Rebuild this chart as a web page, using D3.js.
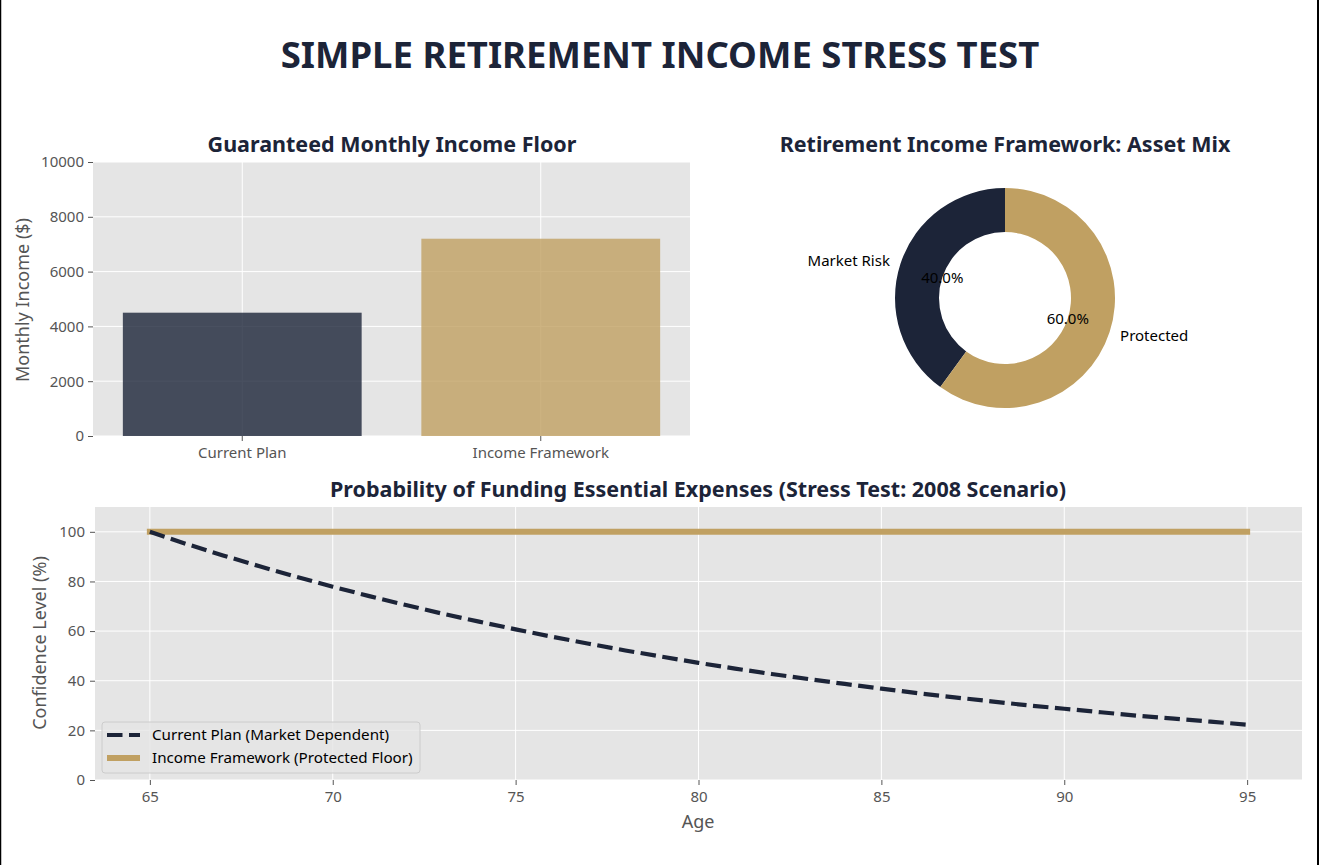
<!DOCTYPE html>
<html>
<head>
<meta charset="utf-8">
<script src="https://cdn.jsdelivr.net/npm/d3@7"></script>
<style>
  body { margin: 0; background: #fff; }
  svg, svg text, .tick text { font-family: "Noto Sans", "Open Sans", sans-serif; }
  .tick text { fill: #555; font-size: 15px; }
  .tick line { stroke: #555; }
  .domain { display: none; }
</style>
</head>
<body>
<div id="chart"></div>
<script>
var navy = "#1c2438",
    gold = "#c0a062";

// bar chart data
var barCats = ["Current Plan", "Income Framework"],
    barVals = [4500, 7200],
    barTicks = [0, 2000, 4000, 6000, 8000, 10000];

// donut data
var mixLabels = ["Market Risk", "Protected"],
    mixVals = [40, 60];

// line chart data
var ages = [65, 66, 67, 68, 69, 70, 71, 72, 73, 74, 75, 76, 77, 78, 79, 80,
            81, 82, 83, 84, 85, 86, 87, 88, 89, 90, 91, 92, 93, 94, 95],
    currentPlan = [100, 95.1, 90.5, 86.1, 81.9, 77.9, 74.1, 70.5, 67.0, 63.8, 60.7,
                   57.7, 54.9, 52.2, 49.7, 47.2, 44.9, 42.7, 40.7, 38.7, 36.8,
                   35.0, 33.3, 31.7, 30.1, 28.7, 27.3, 25.9, 24.7, 23.5, 22.3],
    protectedFloor = [100, 100, 100, 100, 100, 100, 100, 100, 100, 100, 100,
                      100, 100, 100, 100, 100, 100, 100, 100, 100, 100,
                      100, 100, 100, 100, 100, 100, 100, 100, 100, 100],
    ageTicks = [65, 70, 75, 80, 85, 90, 95],
    confTicks = [0, 20, 40, 60, 80, 100];

var W = 1320, H = 865;

var svg = d3.select("#chart").append("svg")
    .attr("width", W)
    .attr("height", H);

// frame edges
svg.append("line").attr("x1", 0.5).attr("x2", 0.5).attr("y1", 0).attr("y2", H)
    .attr("stroke", "#000").attr("stroke-width", 1.5);
svg.append("line").attr("x1", 1318).attr("x2", 1318).attr("y1", 0).attr("y2", H)
    .attr("stroke", "#000").attr("stroke-width", 2);

svg.append("text")
    .attr("x", 660).attr("y", 68)
    .attr("text-anchor", "middle")
    .attr("font-size", 36.5).attr("font-weight", "bold")
    .attr("fill", navy)
    .text("SIMPLE RETIREMENT INCOME STRESS TEST");

function title(x, y, t) {
  svg.append("text")
      .attr("x", x).attr("y", y)
      .attr("text-anchor", "middle")
      .attr("font-size", 21.5).attr("font-weight", "bold")
      .attr("fill", navy)
      .text(t);
}

function ylabel(x, y, t) {
  svg.append("text")
      .attr("transform", "translate(" + x + "," + y + ")rotate(-90)")
      .attr("text-anchor", "middle")
      .attr("font-size", 18)
      .attr("fill", "#555")
      .text(t);
}

// ---- bar chart ----
var b = {l: 93, r: 690, t: 162, b: 436};
var bx = d3.scaleBand().domain(barCats).range([b.l, b.r]).paddingInner(0.2).paddingOuter(0.1),
    by = d3.scaleLinear().domain([0, 10000]).range([b.b, b.t]);

var bar = svg.append("g");
bar.append("rect")
    .attr("x", b.l).attr("y", b.t)
    .attr("width", b.r - b.l).attr("height", b.b - b.t)
    .attr("fill", "#e5e5e5");

bar.selectAll("line.hg")
    .data(barTicks)
  .enter().append("line")
    .attr("class", "hg")
    .attr("x1", b.l).attr("x2", b.r)
    .attr("y1", function(d) { return by(d); })
    .attr("y2", function(d) { return by(d); })
    .attr("stroke", "#fff").attr("stroke-width", 1);

bar.selectAll("line.vg")
    .data(barCats)
  .enter().append("line")
    .attr("class", "vg")
    .attr("x1", function(d) { return bx(d) + bx.bandwidth() / 2; })
    .attr("x2", function(d) { return bx(d) + bx.bandwidth() / 2; })
    .attr("y1", b.t).attr("y2", b.b)
    .attr("stroke", "#fff").attr("stroke-width", 1);

bar.selectAll("rect.bar")
    .data(barVals)
  .enter().append("rect")
    .attr("class", "bar")
    .attr("x", function(d, i) { return bx(barCats[i]); })
    .attr("y", function(d) { return by(d); })
    .attr("width", bx.bandwidth())
    .attr("height", function(d) { return by(0) - by(d); })
    .attr("fill", function(d, i) { return i ? gold : navy; })
    .attr("fill-opacity", 0.8);

bar.append("g")
    .attr("transform", "translate(" + b.l + ",0)")
    .call(d3.axisLeft(by).tickValues(barTicks).tickSize(5).tickPadding(4).tickFormat(d3.format("d")));

bar.append("g")
    .attr("transform", "translate(0," + b.b + ")")
    .call(d3.axisBottom(bx).tickSize(5).tickPadding(6));

title(392, 152, "Guaranteed Monthly Income Floor");
ylabel(29, 300, "Monthly Income ($)");

// ---- donut ----
var cx = 1005, cy = 298, R = 110;
var pie = d3.pie().sort(null).startAngle(2 * Math.PI).endAngle(0)
    .value(function(d) { return d; });
var arcs = pie(mixVals);
var arc = d3.arc().innerRadius(R * 0.6).outerRadius(R);

var donut = svg.append("g").attr("transform", "translate(" + cx + "," + cy + ")");
donut.selectAll("path")
    .data(arcs)
  .enter().append("path")
    .attr("d", arc)
    .attr("fill", function(d, i) { return i ? gold : navy; });

function polar(a, r) { return [Math.sin(a) * r, -Math.cos(a) * r]; }

donut.selectAll("text.lab")
    .data(arcs)
  .enter().append("text")
    .attr("class", "lab")
    .attr("x", function(d) { return polar((d.startAngle + d.endAngle) / 2, R * 1.1)[0]; })
    .attr("y", function(d) { return polar((d.startAngle + d.endAngle) / 2, R * 1.1)[1]; })
    .attr("dy", "0.35em")
    .attr("text-anchor", function(d) { return (d.startAngle + d.endAngle) / 2 > Math.PI ? "end" : "start"; })
    .attr("font-size", 15).attr("fill", "#000")
    .text(function(d, i) { return mixLabels[i]; });

donut.selectAll("text.pct")
    .data(arcs)
  .enter().append("text")
    .attr("class", "pct")
    .attr("x", function(d) { return polar((d.startAngle + d.endAngle) / 2, R * 0.6)[0]; })
    .attr("y", function(d) { return polar((d.startAngle + d.endAngle) / 2, R * 0.6)[1]; })
    .attr("dy", "0.35em")
    .attr("text-anchor", "middle")
    .attr("font-size", 15).attr("fill", "#000")
    .text(function(d) { return d.value.toFixed(1) + "%"; });

title(1005, 152, "Retirement Income Framework: Asset Mix");

// ---- line chart ----
var p = {l: 95, r: 1302, t: 507, b: 780};
var lx = d3.scaleLinear().domain([63.5, 96.5]).range([p.l, p.r]),
    ly = d3.scaleLinear().domain([0, 110]).range([p.b, p.t]);

var lc = svg.append("g");
lc.append("rect")
    .attr("x", p.l).attr("y", p.t)
    .attr("width", p.r - p.l).attr("height", p.b - p.t)
    .attr("fill", "#e5e5e5");

lc.selectAll("line.hg")
    .data(confTicks)
  .enter().append("line")
    .attr("class", "hg")
    .attr("x1", p.l).attr("x2", p.r)
    .attr("y1", function(d) { return ly(d); })
    .attr("y2", function(d) { return ly(d); })
    .attr("stroke", "#fff").attr("stroke-width", 1);

lc.selectAll("line.vg")
    .data(ageTicks)
  .enter().append("line")
    .attr("class", "vg")
    .attr("x1", function(d) { return lx(d); })
    .attr("x2", function(d) { return lx(d); })
    .attr("y1", p.t).attr("y2", p.b)
    .attr("stroke", "#fff").attr("stroke-width", 1);

var line = d3.line()
    .x(function(d, i) { return lx(ages[i]); })
    .y(function(d) { return ly(d); });

lc.append("path")
    .datum(protectedFloor)
    .attr("d", line)
    .attr("fill", "none")
    .attr("stroke", gold)
    .attr("stroke-width", 6)
    .attr("stroke-linecap", "square");

lc.append("path")
    .datum(currentPlan)
    .attr("d", line)
    .attr("fill", "none")
    .attr("stroke", navy)
    .attr("stroke-width", 4.2)
    .attr("stroke-dasharray", "15.5,6.5");

lc.append("g")
    .attr("transform", "translate(" + p.l + ",0)")
    .call(d3.axisLeft(ly).tickValues(confTicks).tickSize(5).tickPadding(5));

lc.append("g")
    .attr("transform", "translate(0," + p.b + ")")
    .call(d3.axisBottom(lx).tickValues(ageTicks).tickSize(5).tickPadding(6));

title(698, 497, "Probability of Funding Essential Expenses (Stress Test: 2008 Scenario)");
ylabel(46, 643, "Confidence Level (%)");

svg.append("text")
    .attr("x", 698).attr("y", 828)
    .attr("text-anchor", "middle")
    .attr("font-size", 18).attr("fill", "#555")
    .text("Age");

// legend
var legend = lc.append("g").attr("transform", "translate(102,722)");
legend.append("rect")
    .attr("width", 318).attr("height", 51)
    .attr("rx", 3)
    .attr("fill", "#e5e5e5").attr("fill-opacity", 0.8)
    .attr("stroke", "#ccc");

var legendItems = [
  {label: "Current Plan (Market Dependent)", color: navy, width: 4.2, dash: "15.5,6.5"},
  {label: "Income Framework (Protected Floor)", color: gold, width: 6, dash: null}
];

var li = legend.selectAll("g.item")
    .data(legendItems)
  .enter().append("g")
    .attr("class", "item")
    .attr("transform", function(d, i) { return "translate(0," + (13 + i * 23) + ")"; });

li.append("line")
    .attr("x1", 5).attr("x2", 38)
    .attr("stroke", function(d) { return d.color; })
    .attr("stroke-width", function(d) { return d.width; })
    .attr("stroke-dasharray", function(d) { return d.dash; });

li.append("text")
    .attr("x", 50).attr("dy", "0.35em")
    .attr("font-size", 15.2).attr("fill", "#000")
    .text(function(d) { return d.label; });
</script>
</body>
</html>
